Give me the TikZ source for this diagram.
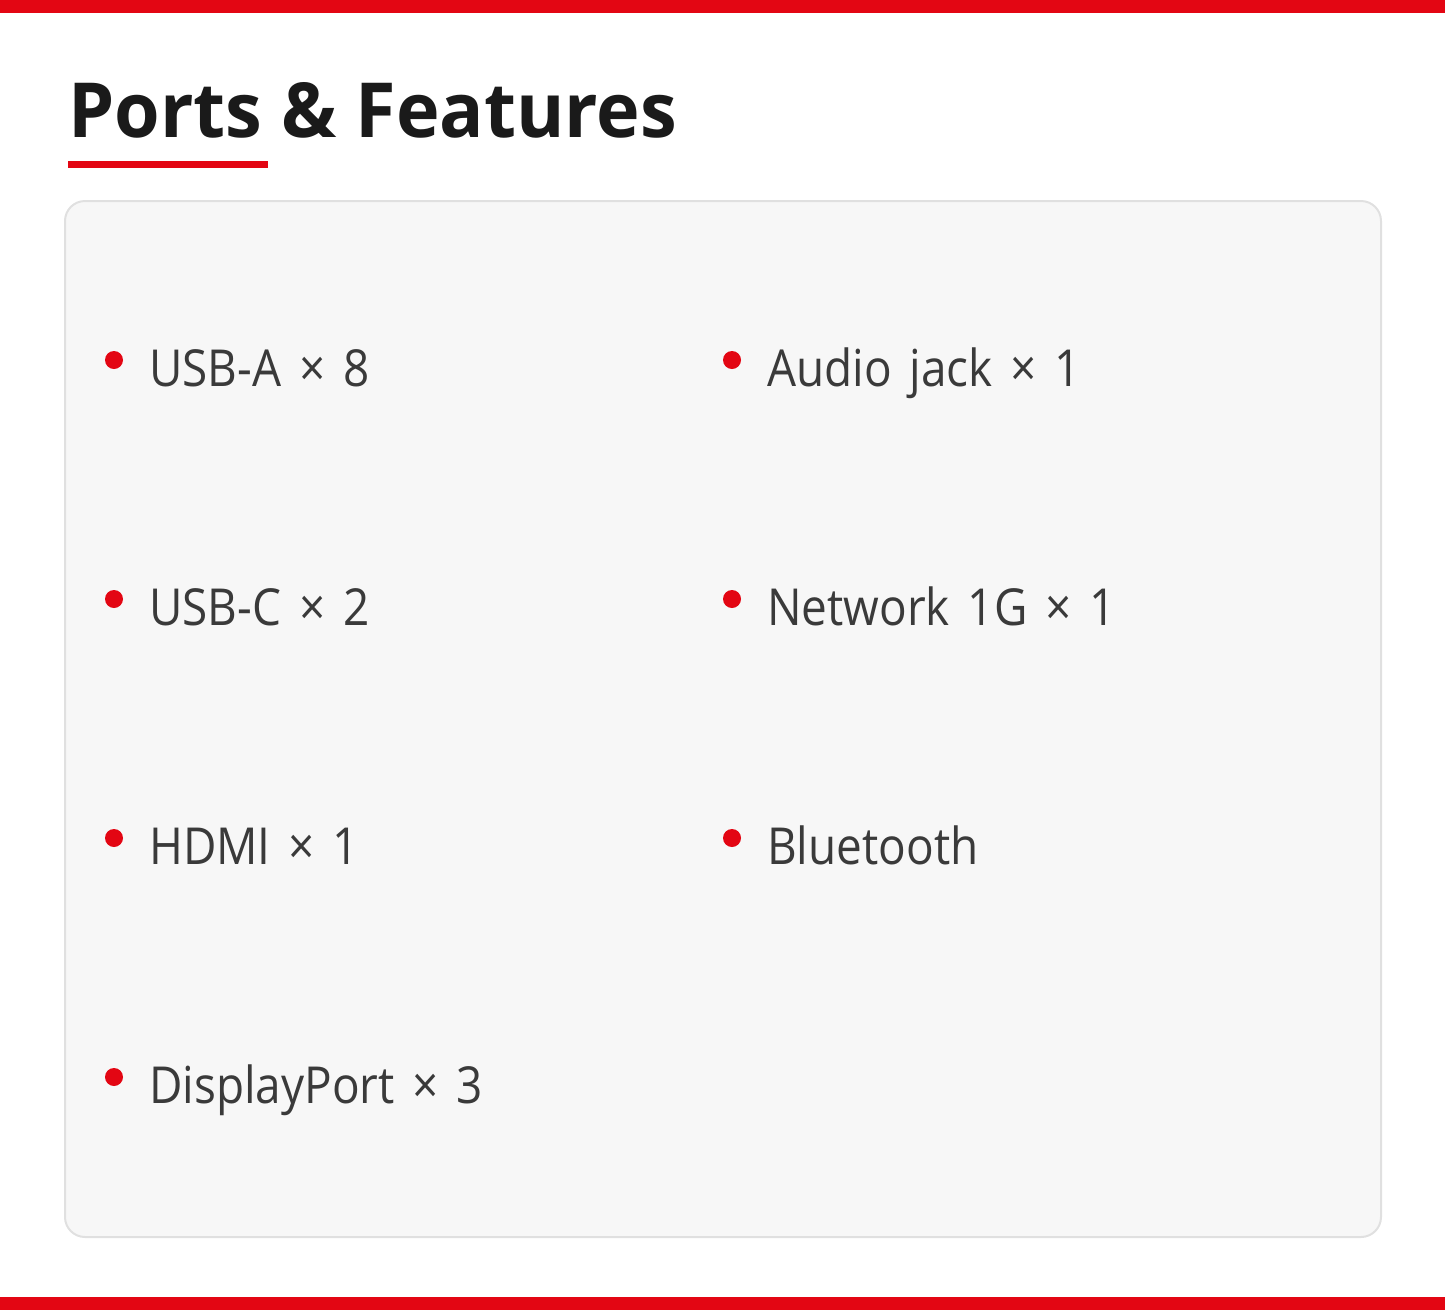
\documentclass[tikz,border=0pt]{standalone}
\usepackage{fontspec}
\setmainfont{Open Sans}
\newfontfamily\titlefont[FakeStretch=0.97]{Open Sans}
\newfontfamily\itemfont[FakeStretch=0.9, WordSpace=1.5]{Open Sans}
\usepackage{tikz}
\usetikzlibrary{positioning}
\definecolor{palRed}{HTML}{E30613}
\definecolor{palInk}{HTML}{1A1A1A}
\definecolor{palText}{HTML}{3A3A3A}
\definecolor{palPanel}{HTML}{F7F7F7}
\definecolor{palEdge}{HTML}{E0E0E0}
\tikzset{
  titlenode/.style={anchor=base west, inner sep=0pt,
                    font=\titlefont\fontsize{76}{80}\selectfont\bfseries, text=palInk},
  itemnode/.style={anchor=base west, inner sep=0pt,
                   font=\itemfont\fontsize{51}{56}\selectfont, text=palText},
  dotnode/.style={circle, fill=palRed, minimum size=18pt, inner sep=0pt},
  panelbox/.style={draw=palEdge, line width=2pt, fill=palPanel, rounded corners=20pt},
}
\begin{document}
\begin{tikzpicture}[x=1pt, y=-1pt]
\useasboundingbox (0,0) rectangle (1445,1310);
%% Bars
\fill[palRed] (0,0) rectangle (1445,13);
\fill[palRed] (0,1297) rectangle (1445,1310);
%% Title
\node[titlenode] (title) at (68,137) {Ports \& Features};
\fill[palRed] (68,161) rectangle (268,168);
%% Panel
\draw[panelbox] (65,201) rectangle (1381,1237);
%% Left column
\node[dotnode] (d1) at (114,360) {};
\node[itemnode] (usba) at (149,386) {USB-A × 8};
\node[dotnode] (d2) at (114,599) {};
\node[itemnode] (usbc) at (149,625) {USB-C × 2};
\node[dotnode] (d3) at (114,838) {};
\node[itemnode] (hdmi) at (149,864) {HDMI × 1};
\node[dotnode] (d4) at (114,1077) {};
\node[itemnode] (dp) at (149,1103) {DisplayPort × 3};
%% Right column
\node[dotnode] (d5) at (732,360) {};
\node[itemnode] (audio) at (767,386) {Audio jack × 1};
\node[dotnode] (d6) at (732,599) {};
\node[itemnode] (net) at (767,625) {Network 1G × 1};
\node[dotnode] (d7) at (732,838) {};
\node[itemnode] (bt) at (767,864) {Bluetooth};
\end{tikzpicture}
\end{document}
